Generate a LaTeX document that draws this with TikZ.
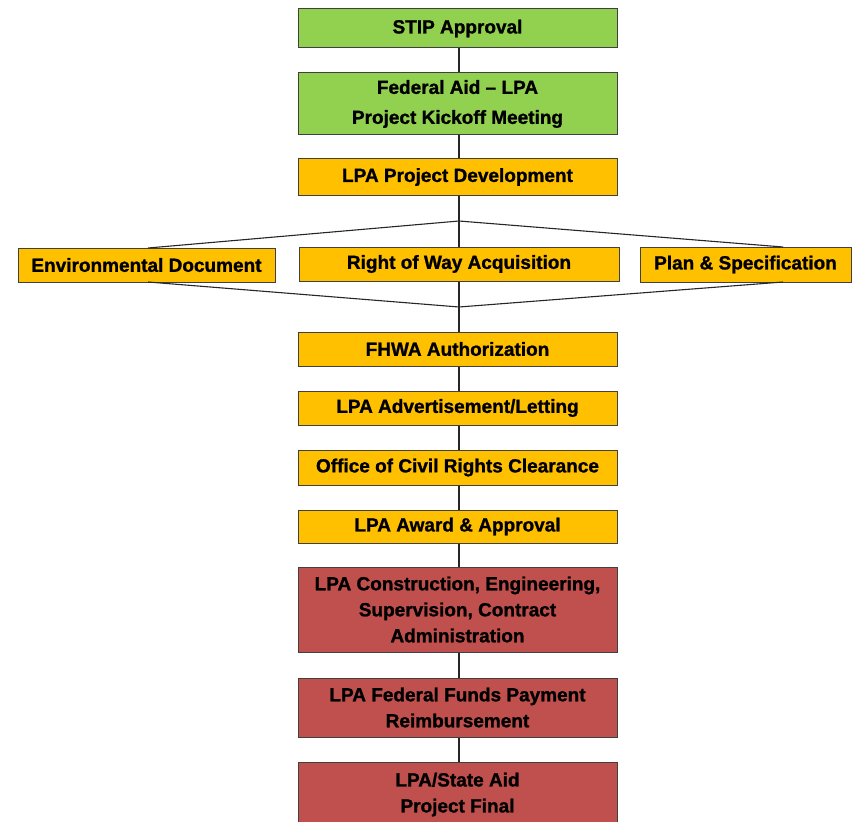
\documentclass[tikz,border=0pt]{standalone}
\usepackage{fontspec}
\setmainfont{Liberation Sans}[FakeBold=1.2]
\begin{document}
\begin{tikzpicture}[x=1pt,y=-1pt,
  box/.style={draw=black!75,line width=1pt,inner sep=0pt,align=center,
    font=\bfseries\fontsize{19}{26}\selectfont},
  conn/.style={draw=black!85,line width=1.1pt}]
\definecolor{grnc}{HTML}{92D050}
\definecolor{orgc}{HTML}{FFC000}
\definecolor{redc}{HTML}{C0504D}
\tikzset{grn/.style={box,fill=grnc},org/.style={box,fill=orgc},redb/.style={box,fill=redc}}
\useasboundingbox (0,0) rectangle (853,821);
\node[grn,minimum width=319,minimum height=39] (stip) at (457.5,28.5) {STIP Approval};
\node[grn,minimum width=319,minimum height=62,font=\bfseries\fontsize{19}{30}\selectfont] (fed) at (457.5,104) {Federal Aid -- LPA\\Project Kickoff Meeting};
\node[org,minimum width=319,minimum height=36] (dev) at (457.5,177) {LPA Project Development};
\node[org,minimum width=257,minimum height=34] (env) at (146.5,265) {Environmental Document};
\node[org,minimum width=320,minimum height=34] (row) at (459,264) {Right of Way Acquisition};
\node[org,minimum width=211,minimum height=35] (plan) at (745.5,264.5) {Plan \& Specification};
\node[org,minimum width=319,minimum height=34] (fhwa) at (457.5,349) {FHWA Authorization};
\node[org,minimum width=319,minimum height=34] (adv) at (457.5,408) {LPA Advertisement/Letting};
\node[org,minimum width=319,minimum height=35] (ocr) at (457.5,467.5) {Office of Civil Rights Clearance};
\node[org,minimum width=319,minimum height=33] (award) at (457.5,526.5) {LPA Award \& Approval};
\node[redb,minimum width=319,minimum height=85] (cons) at (457.5,609.5) {LPA Construction, Engineering,\\Supervision, Contract\\Administration};
\node[redb,minimum width=319,minimum height=59] (ffp) at (457.5,707.5) {LPA Federal Funds Payment\\Reimbursement};
\node[redb,minimum width=319,minimum height=64,anchor=north] (fin) at (457.5,762) {LPA/State Aid\\Project Final};
\coordinate (jt) at (459,221);
\coordinate (jb) at (459,307);
\coordinate (envt) at (148,248);
\coordinate (envb) at (148,282);
\coordinate (plant) at (783,247);
\coordinate (planb) at (783,282);
\draw[conn] (stip.south -| jt) -- (fed.north -| jt);
\draw[conn] (fed.south -| jt) -- (dev.north -| jt);
\draw[conn] (dev.south -| jt) -- (jt) -- (row.north -| jt);
\draw[conn] (envt) -- (jt) -- (plant);
\draw[conn] (envb) -- (jb) -- (planb);
\draw[conn] (row.south -| jt) -- (jb) -- (fhwa.north -| jt);
\draw[conn] (fhwa.south -| jt) -- (adv.north -| jt);
\draw[conn] (adv.south -| jt) -- (ocr.north -| jt);
\draw[conn] (ocr.south -| jt) -- (award.north -| jt);
\draw[conn] (award.south -| jt) -- (cons.north -| jt);
\draw[conn] (cons.south -| jt) -- (ffp.north -| jt);
\draw[conn] (ffp.south -| jt) -- (fin.north -| jt);
\end{tikzpicture}
\end{document}
